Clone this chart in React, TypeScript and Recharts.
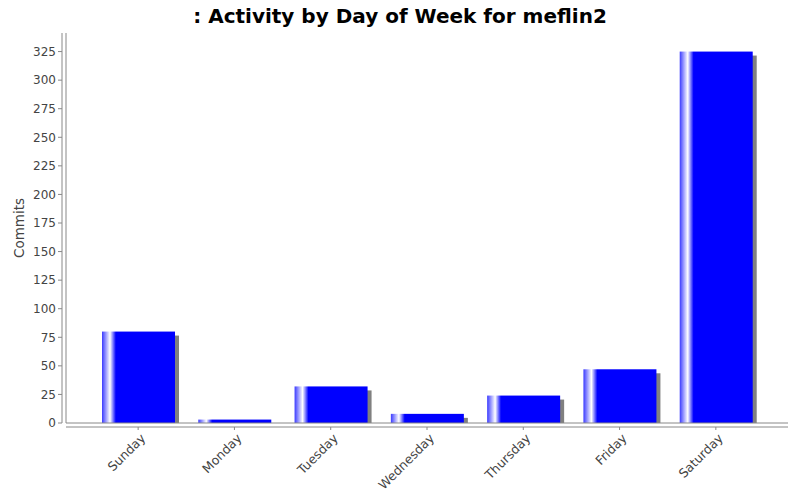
import React from 'react';
import { BarChart, Bar, XAxis, YAxis } from 'recharts';

const days = ['Sunday', 'Monday', 'Tuesday', 'Wednesday', 'Thursday', 'Friday', 'Saturday'];
const commits = [80, 3, 32, 8, 24, 47, 325];
const yTicks = [0, 25, 50, 75, 100, 125, 150, 175, 200, 225, 250, 275, 300, 325];

const data = days.map((day, i) => ({ day, commits: commits[i] }));

const FONT = '"DejaVu Sans", sans-serif';
const AXIS_GREY = '#888888';
const TEXT_GREY = '#444444';

// bar with a drop shadow (clipped at the plot bottom) and a light stripe on the left
const ShadowBar = (props: any) => {
  const { x, y, width, height } = props;
  if (!width || height == null) return null;
  return (
    <g>
      {height > 4 && (
        <rect x={x + 4} y={y + 4} width={width} height={height - 4} fill="#808080" />
      )}
      <rect x={x} y={y} width={width} height={height} fill="url(#barGrad)" />
    </g>
  );
};

const DayTick = (props: any) => {
  const { x, y, payload } = props;
  const tx = x + 8;
  const ty = y + 7;
  return (
    <text
      x={tx}
      y={ty}
      transform={`rotate(-45, ${tx}, ${ty})`}
      textAnchor="end"
      fill={TEXT_GREY}
      fontSize={12.5}
      fontFamily={FONT}
    >
      {payload.value}
    </text>
  );
};

const CommitsLabel = (props: any) => {
  const { viewBox } = props;
  const cx = viewBox.x + 19;
  const cy = viewBox.y + viewBox.height / 2;
  return (
    <text
      x={cx}
      y={cy}
      transform={`rotate(-90, ${cx}, ${cy})`}
      textAnchor="middle"
      dominantBaseline="central"
      fill={TEXT_GREY}
      fontSize={13.5}
      fontFamily={FONT}
    >
      Commits
    </text>
  );
};

export default function App() {
  return (
    <div style={{ position: 'absolute', left: 0, top: 0, width: 800, height: 500, background: '#fff' }}>
      <svg width={800} height={34} style={{ position: 'absolute', left: 0, top: 0 }}>
        <text
          x={400}
          y={22.5}
          textAnchor="middle"
          fontFamily={FONT}
          fontWeight="bold"
          fontSize={20}
          fill="#000"
        >
          : Activity by Day of Week for meflin2
        </text>
      </svg>
      <div style={{ position: 'absolute', left: 0, top: 0 }}>
        <BarChart
          width={800}
          height={500}
          data={data}
          margin={{ top: 33, right: 12, bottom: 0, left: 0 }}
        >
          <defs>
            <linearGradient id="barGrad" x1="0" y1="0" x2="1" y2="0">
              <stop offset="0%" stopColor="#3a3aff" />
              <stop offset="11%" stopColor="#ffffff" />
              <stop offset="19%" stopColor="#0000ff" />
              <stop offset="100%" stopColor="#0000ff" />
            </linearGradient>
          </defs>
          {/* plot frame */}
          <XAxis
            xAxisId="box"
            dataKey="day"
            height={4}
            tick={false}
            tickLine={false}
            axisLine={{ stroke: AXIS_GREY }}
            padding={{ left: 24, right: 24 }}
          />
          <XAxis
            xAxisId="main"
            dataKey="day"
            height={73}
            interval={0}
            tickSize={3}
            tickLine={{ stroke: AXIS_GREY }}
            axisLine={{ stroke: AXIS_GREY }}
            tick={<DayTick />}
            padding={{ left: 24, right: 24 }}
          />
          <XAxis
            xAxisId="top"
            orientation="top"
            dataKey="day"
            height={0}
            tick={false}
            tickLine={false}
            axisLine={{ stroke: AXIS_GREY }}
          />
          <YAxis
            yAxisId="box"
            width={4}
            domain={[0, 341.25]}
            tick={false}
            tickLine={false}
            axisLine={{ stroke: AXIS_GREY }}
          />
          <YAxis
            yAxisId="main"
            width={62}
            domain={[0, 341.25]}
            ticks={yTicks}
            interval={0}
            tickSize={4}
            tickMargin={2}
            tickLine={{ stroke: AXIS_GREY }}
            axisLine={{ stroke: AXIS_GREY }}
            tick={{ fill: TEXT_GREY, fontSize: 12, fontFamily: FONT }}
            label={<CommitsLabel />}
          />
          <YAxis
            yAxisId="right"
            orientation="right"
            width={0}
            domain={[0, 341.25]}
            tick={false}
            tickLine={false}
            axisLine={{ stroke: AXIS_GREY }}
          />
          <Bar
            xAxisId="main"
            yAxisId="main"
            dataKey="commits"
            barSize={73}
            shape={<ShadowBar />}
            isAnimationActive={false}
          />
        </BarChart>
      </div>
    </div>
  );
}
